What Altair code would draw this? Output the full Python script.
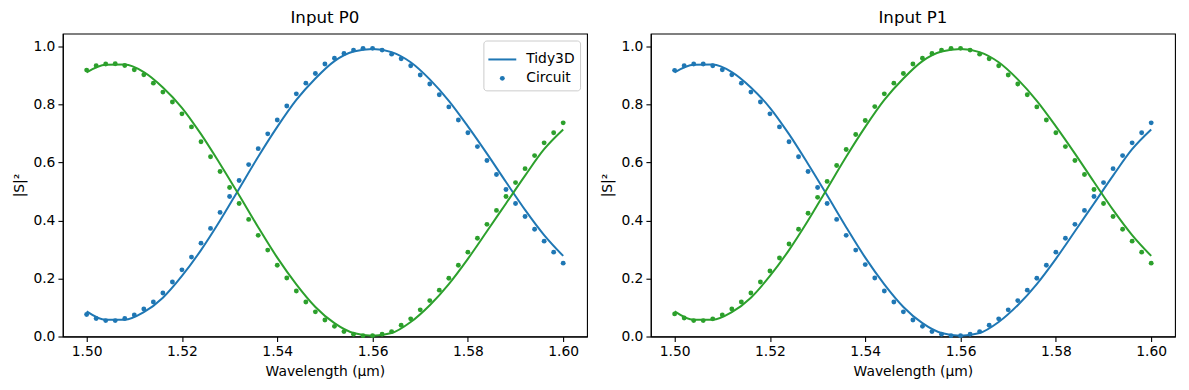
import altair as alt
import pandas as pd

BLUE = "#1f77b4"
GREEN = "#2ca02c"
FONT = "DejaVu Sans"

# Sample wavelengths of the circuit model (µm)
wl_dots = [1.500, 1.502, 1.504, 1.506, 1.508, 1.510, 1.512, 1.514, 1.516, 1.518,
           1.520, 1.522, 1.524, 1.526, 1.528, 1.530, 1.532, 1.534, 1.536, 1.538,
           1.540, 1.542, 1.544, 1.546, 1.548, 1.550, 1.552, 1.554, 1.556, 1.558,
           1.560, 1.562, 1.564, 1.566, 1.568, 1.570, 1.572, 1.574, 1.576, 1.578,
           1.580, 1.582, 1.584, 1.586, 1.588, 1.590, 1.592, 1.594, 1.596, 1.598,
           1.600]

# Wavelengths at which the Tidy3D curves were read
wl_line = [1.500, 1.504, 1.508, 1.512, 1.516, 1.520, 1.524, 1.528, 1.532, 1.536,
           1.540, 1.544, 1.548, 1.552, 1.556, 1.560, 1.564, 1.568, 1.572, 1.576,
           1.580, 1.584, 1.588, 1.592, 1.596, 1.600]

# Input P0 -- circuit (dots)
p0_blue_dots = [0.076, 0.062, 0.055, 0.055, 0.062, 0.074, 0.095, 0.119, 0.150, 0.188,
                0.230, 0.274, 0.322, 0.373, 0.428, 0.483, 0.538, 0.593, 0.648, 0.699,
                0.747, 0.795, 0.837, 0.874, 0.907, 0.940, 0.960, 0.976, 0.988, 0.994,
                0.994, 0.988, 0.974, 0.958, 0.934, 0.902, 0.871, 0.834, 0.792, 0.747,
                0.703, 0.655, 0.607, 0.559, 0.507, 0.459, 0.414, 0.370, 0.329, 0.291,
                0.253]
p0_green_dots = [0.919, 0.934, 0.940, 0.941, 0.935, 0.920, 0.903, 0.874, 0.843, 0.809,
                 0.768, 0.723, 0.672, 0.620, 0.569, 0.514, 0.459, 0.404, 0.349, 0.298,
                 0.246, 0.202, 0.157, 0.119, 0.085, 0.057, 0.035, 0.017, 0.008, 0.003,
                 0.003, 0.008, 0.017, 0.039, 0.061, 0.092, 0.124, 0.160, 0.201, 0.246,
                 0.291, 0.339, 0.387, 0.435, 0.483, 0.531, 0.579, 0.624, 0.668, 0.703,
                 0.737]

# Input P0 -- Tidy3D (lines)
p0_blue_line = [0.087, 0.058, 0.058, 0.084, 0.134, 0.209, 0.298, 0.400, 0.510, 0.620,
                0.723, 0.816, 0.890, 0.950, 0.983, 0.992, 0.981, 0.946, 0.887, 0.813,
                0.725, 0.631, 0.533, 0.437, 0.350, 0.278]
p0_green_line = [0.911, 0.937, 0.938, 0.912, 0.859, 0.789, 0.698, 0.595, 0.487, 0.377,
                 0.272, 0.180, 0.102, 0.046, 0.012, 0.003, 0.012, 0.050, 0.108, 0.181,
                 0.268, 0.363, 0.459, 0.555, 0.646, 0.714]

# Input P1 (the same curves with the colours swapped)
p1_blue_dots = [0.918, 0.934, 0.940, 0.940, 0.934, 0.920, 0.903, 0.874, 0.843, 0.809,
                0.768, 0.723, 0.672, 0.620, 0.569, 0.514, 0.459, 0.404, 0.349, 0.298,
                0.248, 0.202, 0.157, 0.119, 0.085, 0.057, 0.035, 0.017, 0.008, 0.003,
                0.003, 0.008, 0.017, 0.039, 0.061, 0.092, 0.124, 0.160, 0.201, 0.246,
                0.291, 0.339, 0.387, 0.435, 0.483, 0.531, 0.579, 0.624, 0.668, 0.703,
                0.737]
p1_green_dots = [0.078, 0.064, 0.055, 0.055, 0.061, 0.074, 0.095, 0.119, 0.150, 0.188,
                 0.226, 0.271, 0.319, 0.370, 0.425, 0.480, 0.535, 0.590, 0.645, 0.697,
                 0.745, 0.793, 0.837, 0.874, 0.907, 0.940, 0.960, 0.976, 0.988, 0.994,
                 0.994, 0.988, 0.974, 0.958, 0.934, 0.902, 0.871, 0.834, 0.792, 0.747,
                 0.703, 0.655, 0.607, 0.559, 0.507, 0.459, 0.414, 0.370, 0.329, 0.291,
                 0.253]
p1_blue_line = [0.911, 0.937, 0.938, 0.912, 0.859, 0.789, 0.698, 0.595, 0.487, 0.377,
                0.272, 0.180, 0.102, 0.046, 0.012, 0.003, 0.012, 0.050, 0.108, 0.181,
                0.268, 0.363, 0.459, 0.555, 0.646, 0.714]
p1_green_line = [0.087, 0.058, 0.058, 0.084, 0.134, 0.209, 0.298, 0.400, 0.510, 0.620,
                 0.723, 0.816, 0.890, 0.950, 0.983, 0.992, 0.981, 0.946, 0.887, 0.813,
                 0.725, 0.631, 0.533, 0.437, 0.350, 0.278]

x_ticks = [1.50, 1.52, 1.54, 1.56, 1.58, 1.60]
y_ticks = [0.0, 0.2, 0.4, 0.6, 0.8, 1.0]
legend_labels = ["Tidy3D", "Circuit"]

W, H = 526, 304
LW = 2.0
LINE_SYMBOL = "M-1,-0.072H1V0.072H-1Z"


def enc_xy():
    x = alt.X("wl:Q",
              scale=alt.Scale(domain=[1.495, 1.605], nice=False, zero=False),
              axis=alt.Axis(values=x_ticks, format=".2f", title="Wavelength (μm)",
                            labelFlush=False, labelOverlap=False, titlePadding=6))
    y = alt.Y("v:Q",
              scale=alt.Scale(domain=[0, 1.045], nice=False, zero=False),
              axis=alt.Axis(values=y_ticks, format=".1f", title="|S|²",
                            labelFlush=False, labelOverlap=False, titlePadding=6))
    return x, y


def panel(title, b_line, g_line, b_dots, g_dots, with_legend):
    x, y = enc_xy()
    bl = pd.DataFrame({"wl": wl_line, "v": b_line})
    gl = pd.DataFrame({"wl": wl_line, "v": g_line})
    bd = pd.DataFrame({"wl": wl_dots, "v": b_dots, "kind": "Circuit"})
    gd = pd.DataFrame({"wl": wl_dots, "v": g_dots})

    line_b = alt.Chart(bl).mark_line(strokeWidth=LW, interpolate="monotone").encode(
        x=x, y=y, color=alt.value(BLUE))
    line_g = alt.Chart(gl).mark_line(strokeWidth=LW, interpolate="monotone").encode(
        x=x, y=y, color=alt.value(GREEN))

    if with_legend:
        leg = alt.Legend(
            title=None, orient="top-right", offset=7, padding=5,
            fillColor="white", strokeColor="#cccccc", cornerRadius=3,
            labelFont=FONT, labelFontSize=13.9, labelColor="black",
            labelOffset=10, rowPadding=4, symbolOpacity=1,
            symbolFillColor=BLUE, symbolStrokeWidth=0,
        )
        dots_b = alt.Chart(bd).mark_point(filled=True, opacity=1).encode(
            x=x, y=y, color=alt.value(BLUE),
            shape=alt.Shape("kind:N",
                            scale=alt.Scale(domain=legend_labels,
                                            range=[LINE_SYMBOL, "circle"]),
                            legend=leg),
            size=alt.Size("kind:N",
                          scale=alt.Scale(domain=legend_labels, range=[784, 24]),
                          legend=leg),
        )
    else:
        dots_b = alt.Chart(bd).mark_point(filled=True, opacity=1, size=24).encode(
            x=x, y=y, color=alt.value(BLUE), shape=alt.value("circle"))
    dots_g = alt.Chart(gd).mark_point(filled=True, opacity=1, size=24).encode(
        x=x, y=y, color=alt.value(GREEN), shape=alt.value("circle"))

    return alt.layer(line_b, line_g, dots_b, dots_g).properties(
        width=W, height=H,
        title=alt.Title(title, font=FONT, fontSize=16.7, fontWeight="normal",
                        color="black", offset=7, anchor="middle"),
    )


left = panel("Input P0", p0_blue_line, p0_green_line, p0_blue_dots, p0_green_dots, True)
right = panel("Input P1", p1_blue_line, p1_green_line, p1_blue_dots, p1_green_dots, False)

chart = alt.hconcat(left, right, spacing=12).resolve_scale(
    shape="independent", size="independent"
).resolve_legend(shape="independent", size="independent").properties(
    padding={"left": 4, "top": 0, "right": 5, "bottom": 2}
).configure_view(
    stroke="black", strokeWidth=1.1
).configure_axis(
    grid=False, domainColor="black", domainWidth=1.1,
    tickColor="black", tickWidth=1.1, tickSize=4.9,
    labelFont=FONT, labelFontSize=13.9, labelColor="black", labelPadding=3,
    titleFont=FONT, titleFontSize=13.9, titleFontWeight="normal", titleColor="black",
)

chart.save("out.html", embed_options={"renderer": "svg", "actions": False})
